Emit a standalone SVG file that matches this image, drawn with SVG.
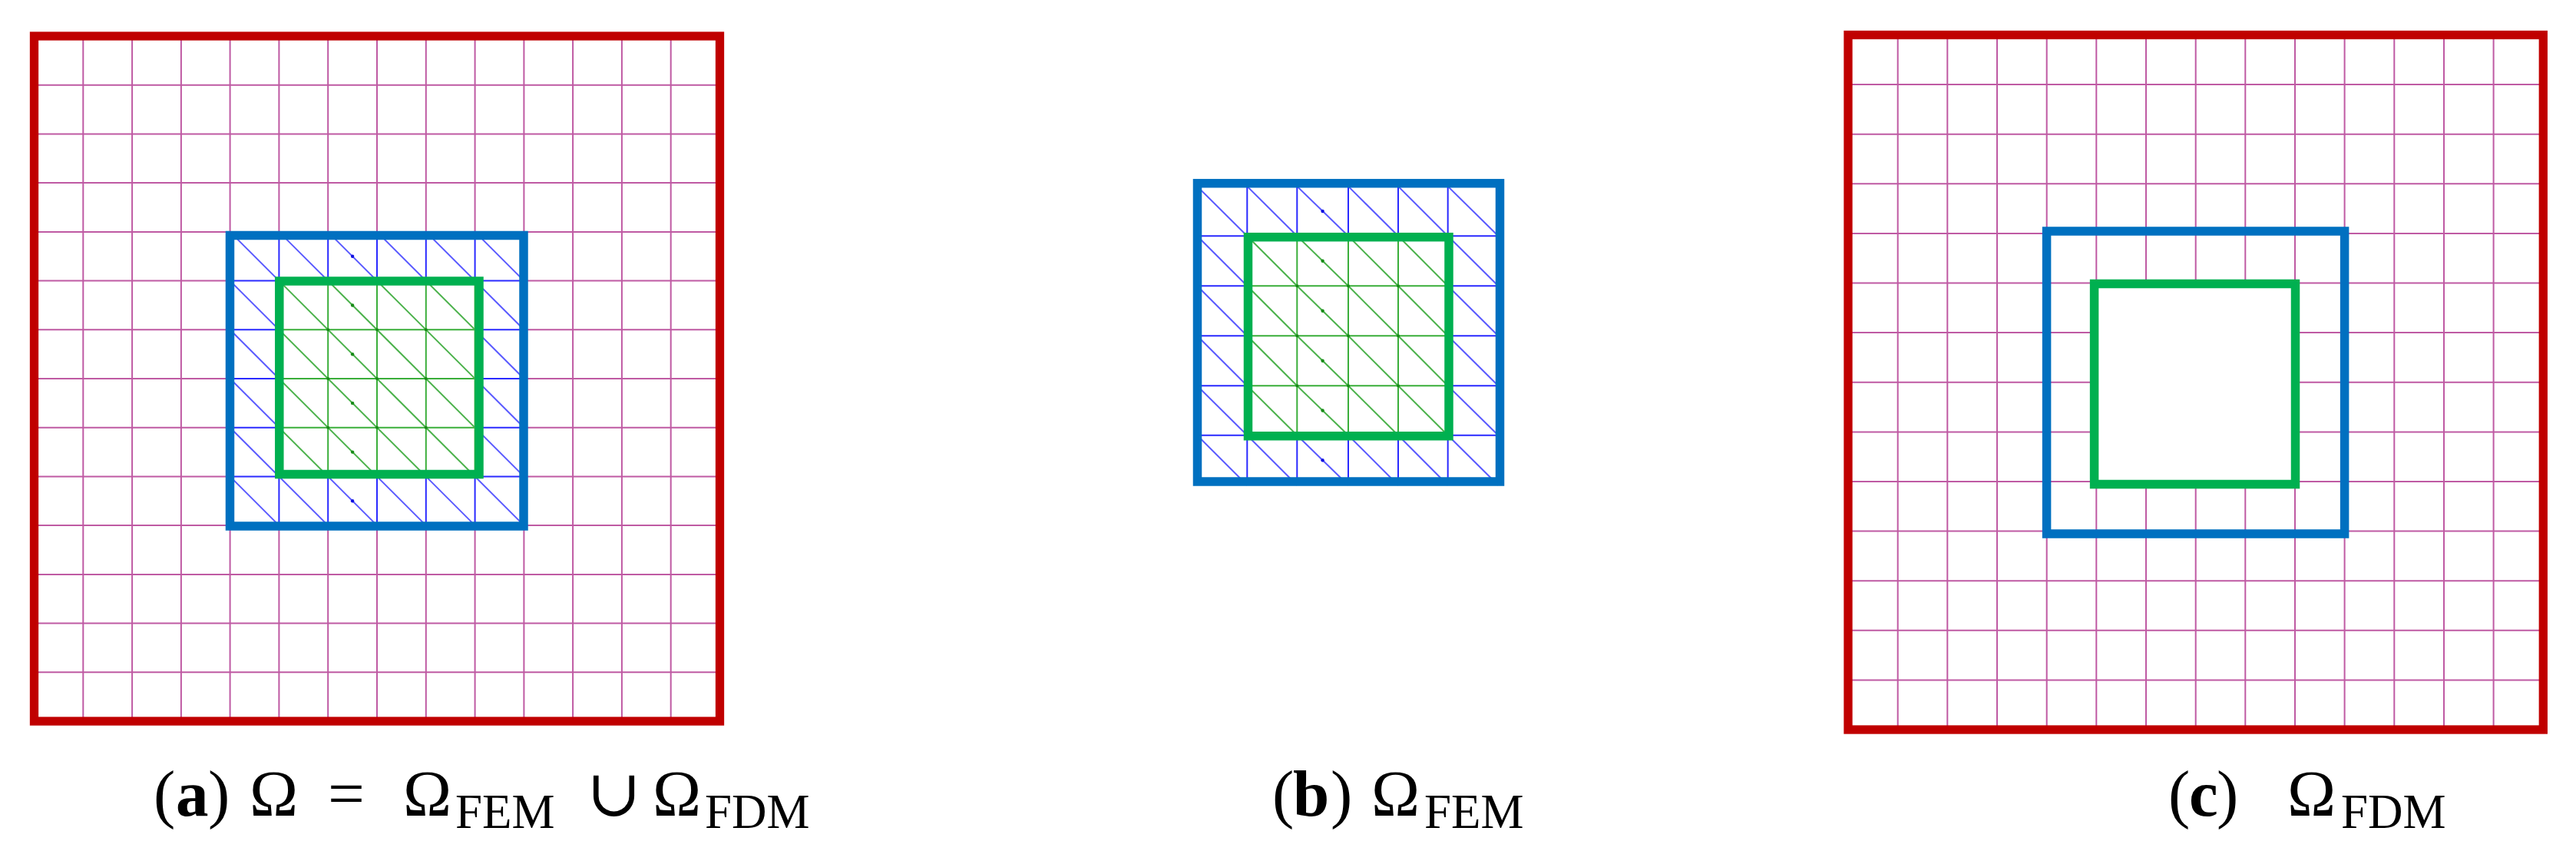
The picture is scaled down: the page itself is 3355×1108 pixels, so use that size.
<svg xmlns="http://www.w3.org/2000/svg" xmlns:xlink="http://www.w3.org/1999/xlink" width="3355" height="1108" viewBox="0 0 3355 1108">
<style>
.fdm-grid{fill:none;stroke:#bf5aa3;stroke-width:2}
.b-red{fill:none;stroke:#c00000;stroke-width:11.3}
.b-blue{fill:none;stroke:#0070c0;stroke-width:11.5}
.b-green{fill:none;stroke:#00b050;stroke-width:11.5}
.blank{fill:#ffffff;stroke:none}
.lbl{font-family:"Liberation Serif","DejaVu Serif",serif;font-size:85px;fill:#000}
.sub{font-size:63px}
.dot-b{fill:#1010e0}
.dot-g{fill:#188a18}
</style>
<defs>
<path id="meshA-grid" d="M363.4 301.9V684.1M427.2 301.9V684.1M491 301.9V684.1M554.8 301.9V684.1M618.6 301.9V684.1M299.6 365.6H682.4M299.6 429.3H682.4M299.6 493H682.4M299.6 556.7H682.4M299.6 620.4H682.4"/>
<path id="meshA-diag" d="M299.6 301.9L682.4 684.1M299.6 365.6L618.6 684.1M299.6 429.3L554.8 684.1M299.6 493L491 684.1M299.6 556.7L427.2 684.1M299.6 620.4L363.4 684.1M363.4 301.9L682.4 620.4M427.2 301.9L682.4 556.7M491 301.9L682.4 493M554.8 301.9L682.4 429.3M618.6 301.9L682.4 365.6"/>
<path id="meshB-grid" d="M1624.3 242.6V631.7M1689.3 242.6V631.7M1756 242.6V631.7M1821 242.6V631.7M1885.7 242.6V631.7M1559.2 307.3H1951.3M1559.2 372.3H1951.3M1559.2 437.3H1951.3M1559.2 502.3H1951.3M1559.2 566.7H1951.3"/>
<path id="meshB-diag" d="M1559.2 242.6L1624.3 307.3L1689.3 372.3L1756 437.3L1821 502.3L1885.7 566.7L1951.3 631.7M1559.2 307.3L1624.3 372.3L1689.3 437.3L1756 502.3L1821 566.7L1885.7 631.7M1559.2 372.3L1624.3 437.3L1689.3 502.3L1756 566.7L1821 631.7M1559.2 437.3L1624.3 502.3L1689.3 566.7L1756 631.7M1559.2 502.3L1624.3 566.7L1689.3 631.7M1559.2 566.7L1624.3 631.7M1624.3 242.6L1689.3 307.3L1756 372.3L1821 437.3L1885.7 502.3L1951.3 566.7M1689.3 242.6L1756 307.3L1821 372.3L1885.7 437.3L1951.3 502.3M1756 242.6L1821 307.3L1885.7 372.3L1951.3 437.3M1821 242.6L1885.7 307.3L1951.3 372.3M1885.7 242.6L1951.3 307.3"/>
<clipPath id="clipGreenA"><rect x="363.8" y="366" width="260.2" height="251.5"/></clipPath>
<clipPath id="clipBlueB"><rect x="1554" y="233.3" width="405" height="399.4"/></clipPath>
<clipPath id="clipGreenB"><rect x="1625.5" y="308.7" width="261.5" height="259"/></clipPath>
</defs>

<g id="panel-a">
  <g id="a-fdm-grid">
    <path class="fdm-grid" d="M108.3 47V939M172.1 47V939M235.9 47V939M299.6 47V939M363.4 47V939M427.2 47V939M491 47V939M554.8 47V939M618.6 47V939M682.4 47V939M746.1 47V939M809.9 47V939M873.7 47V939M44.5 110.7H937.5M44.5 174.4H937.5M44.5 238.1H937.5M44.5 301.9H937.5M44.5 365.6H937.5M44.5 429.3H937.5M44.5 493H937.5M44.5 556.7H937.5M44.5 620.4H937.5M44.5 684.1H937.5M44.5 747.9H937.5M44.5 811.6H937.5M44.5 875.3H937.5"/>
  </g>
  <g id="a-fem">
    <rect class="blank" x="299.5" y="306.5" width="382.5" height="378.5"/>
    <use xlink:href="#meshA-grid" href="#meshA-grid" fill="none" stroke="#2a2aff" stroke-width="2"/>
    <use xlink:href="#meshA-diag" href="#meshA-diag" fill="none" stroke="#5a5aff" stroke-width="2"/>
    <circle class="dot-b" cx="459.1" cy="333.8" r="2.2"/>
    <circle class="dot-b" cx="459.1" cy="652.3" r="2.2"/>
  </g>
  <g id="a-core">
    <rect class="blank" x="363.8" y="366" width="260.2" height="251.5"/>
    <g clip-path="url(#clipGreenA)">
      <use xlink:href="#meshA-grid" href="#meshA-grid" fill="none" stroke="#3aae3a" stroke-width="2"/>
      <use xlink:href="#meshA-diag" href="#meshA-diag" fill="none" stroke="#4cb24c" stroke-width="2"/>
    </g>
    <circle class="dot-g" cx="459.1" cy="397.5" r="2.2"/>
    <circle class="dot-g" cx="459.1" cy="461.2" r="2.2"/>
    <circle class="dot-g" cx="459.1" cy="524.9" r="2.2"/>
    <circle class="dot-g" cx="459.1" cy="588.6" r="2.2"/>
    <circle class="dot-g" cx="427.2" cy="429.3" r="2"/>
    <circle class="dot-g" cx="491" cy="429.3" r="2"/>
    <circle class="dot-g" cx="554.8" cy="429.3" r="2"/>
    <circle class="dot-g" cx="427.2" cy="493" r="2"/>
    <circle class="dot-g" cx="491" cy="493" r="2"/>
    <circle class="dot-g" cx="554.8" cy="493" r="2"/>
    <circle class="dot-g" cx="427.2" cy="556.7" r="2"/>
    <circle class="dot-g" cx="491" cy="556.7" r="2"/>
    <circle class="dot-g" cx="554.8" cy="556.7" r="2"/>
    <rect class="b-green" x="363.8" y="366" width="260.2" height="251.5"/>
  </g>
  <rect id="a-fem-border" class="b-blue" x="299.5" y="306.5" width="382.5" height="378.5"/>
  <rect id="a-fdm-border" class="b-red" x="44.5" y="47" width="893" height="892"/>
  <text id="label-a" class="lbl" y="1062"><tspan x="200">(</tspan><tspan x="229" font-weight="bold">a</tspan><tspan x="271">)</tspan><tspan x="325">Ω</tspan><tspan x="427">=</tspan><tspan x="525">Ω</tspan><tspan class="sub" x="593" y="1078">FEM</tspan><tspan x="764" y="1062">∪</tspan><tspan x="850">Ω</tspan><tspan class="sub" x="918" y="1078">FDM</tspan></text>
</g>

<g id="panel-b">
  <g id="b-fem" clip-path="url(#clipBlueB)">
    <use xlink:href="#meshB-grid" href="#meshB-grid" fill="none" stroke="#2a2aff" stroke-width="2"/>
    <use xlink:href="#meshB-diag" href="#meshB-diag" fill="none" stroke="#5a5aff" stroke-width="2"/>
    <circle class="dot-b" cx="1722.6" cy="275" r="2.2"/>
    <circle class="dot-b" cx="1722.6" cy="599.2" r="2.2"/>
  </g>
  <g id="b-core">
    <rect class="blank" x="1625.5" y="308.7" width="261.5" height="259"/>
    <g clip-path="url(#clipGreenB)">
      <use xlink:href="#meshB-grid" href="#meshB-grid" fill="none" stroke="#3aae3a" stroke-width="2"/>
      <use xlink:href="#meshB-diag" href="#meshB-diag" fill="none" stroke="#4cb24c" stroke-width="2"/>
    </g>
    <circle class="dot-g" cx="1722.6" cy="339.8" r="2.2"/>
    <circle class="dot-g" cx="1722.6" cy="404.8" r="2.2"/>
    <circle class="dot-g" cx="1722.6" cy="469.8" r="2.2"/>
    <circle class="dot-g" cx="1722.6" cy="534.5" r="2.2"/>
    <circle class="dot-g" cx="1689.3" cy="372.3" r="2"/>
    <circle class="dot-g" cx="1756" cy="372.3" r="2"/>
    <circle class="dot-g" cx="1821" cy="372.3" r="2"/>
    <circle class="dot-g" cx="1689.3" cy="437.3" r="2"/>
    <circle class="dot-g" cx="1756" cy="437.3" r="2"/>
    <circle class="dot-g" cx="1821" cy="437.3" r="2"/>
    <circle class="dot-g" cx="1689.3" cy="502.3" r="2"/>
    <circle class="dot-g" cx="1756" cy="502.3" r="2"/>
    <circle class="dot-g" cx="1821" cy="502.3" r="2"/>
    <rect class="b-green" x="1625.5" y="308.7" width="261.5" height="259"/>
  </g>
  <rect id="b-fem-border" class="b-blue" x="1559.5" y="238.7" width="394" height="388.3"/>
  <text id="label-b" class="lbl" y="1062"><tspan x="1657">(</tspan><tspan x="1684" font-weight="bold">b</tspan><tspan x="1733">)</tspan><tspan x="1786">Ω</tspan><tspan class="sub" x="1855" y="1078">FEM</tspan></text>
</g>

<g id="panel-c">
  <g id="c-fdm-grid">
    <path class="fdm-grid" d="M2471.7 45.5V950M2536.3 45.5V950M2601 45.5V950M2665.7 45.5V950M2730.3 45.5V950M2795 45.5V950M2859.7 45.5V950M2924.3 45.5V950M2989 45.5V950M3053.6 45.5V950M3118.3 45.5V950M3183 45.5V950M3247.6 45.5V950M2407 110.1H3312.3M2407 174.7H3312.3M2407 239.3H3312.3M2407 303.9H3312.3M2407 368.5H3312.3M2407 433.1H3312.3M2407 497.8H3312.3M2407 562.4H3312.3M2407 627H3312.3M2407 691.6H3312.3M2407 756.2H3312.3M2407 820.8H3312.3M2407 885.4H3312.3"/>
  </g>
  <rect id="c-core" class="b-green" style="fill:#ffffff" x="2727.6" y="369.5" width="261.9" height="261"/>
  <rect id="c-fem" class="b-blue" x="2665.6" y="301" width="388" height="394"/>
  <rect id="c-fdm-border" class="b-red" x="2407" y="45.5" width="905.3" height="904.5"/>
  <text id="label-c" class="lbl" y="1062"><tspan x="2824">(</tspan><tspan x="2851" font-weight="bold">c</tspan><tspan x="2887">)</tspan><tspan x="2979">Ω</tspan><tspan class="sub" x="3049" y="1078">FDM</tspan></text>
</g>
</svg>
